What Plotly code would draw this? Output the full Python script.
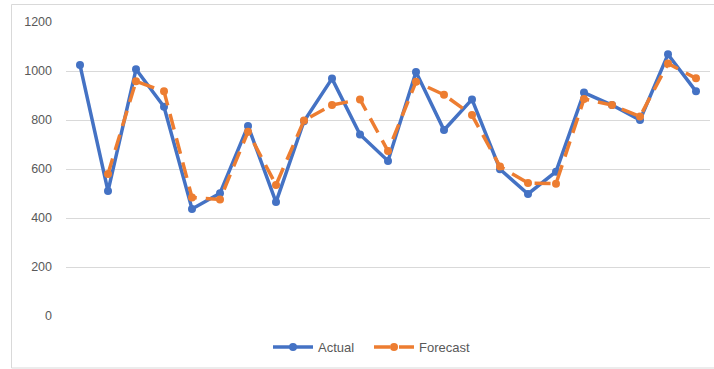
import plotly.graph_objects as go

# Period index and the two series
periods = list(range(1, 24))
actual = [1024, 510, 1007, 854, 437, 501, 776, 465, 795, 969, 741, 633,
          996, 759, 884, 599, 498, 589, 912, 861, 800, 1068, 917]
forecast = [None, 580, 958, 917, 484, 476, 752, 535, 798, 861, 884, 673,
            956, 903, 820, 610, 543, 540, 886, 861, 814, 1031, 970]
y_ticks = [0, 200, 400, 600, 800, 1000, 1200]

BLUE = "#4472C4"
ORANGE = "#ED7D31"
GRID = "#D9D9D9"
TEXT = "#595959"
FONT = "Liberation Sans, Arial, sans-serif"

W, H = 714, 369
ML, MR, MT, MB = 66, 4, 22, 53
pw, ph = W - ML - MR, H - MT - MB

fig = go.Figure()
fig.add_trace(go.Scatter(
    x=periods, y=actual, name="Actual", mode="lines+markers",
    line=dict(color=BLUE, width=3.5),
    marker=dict(color=BLUE, size=8, symbol="circle"),
))
fig.add_trace(go.Scatter(
    x=periods, y=forecast, name="Forecast", mode="lines+markers",
    line=dict(color=ORANGE, width=3.5, dash="16px,9px"),
    marker=dict(color=ORANGE, size=8, symbol="circle"),
))

# light outer frame around the chart area
def px_x(p):
    return (p - ML) / pw

def px_y(p):
    return (H - MB - p) / ph

fig.add_shape(type="rect", xref="paper", yref="paper",
              x0=px_x(11.5), x1=px_x(720), y0=px_y(368), y1=px_y(4.5),
              line=dict(color=GRID, width=1), fillcolor="rgba(0,0,0,0)",
              layer="below")

fig.update_layout(
    width=W, height=H,
    margin=dict(l=ML, r=MR, t=MT, b=MB, pad=0),
    paper_bgcolor="white", plot_bgcolor="white",
    font=dict(family=FONT, size=12.5, color=TEXT),
    showlegend=True,
    legend=dict(
        orientation="h", xref="paper", yref="paper",
        x=px_x(369), xanchor="center", y=px_y(347), yanchor="middle",
        font=dict(family=FONT, size=13, color=TEXT),
        bgcolor="rgba(0,0,0,0)", itemwidth=40, entrywidth=46,
    ),
    xaxis=dict(
        type="linear", range=[0.5, 23.5], showgrid=False, zeroline=False,
        showticklabels=False, ticks="", showline=False, fixedrange=True,
    ),
    yaxis=dict(
        range=[0, 1200], tickvals=y_ticks, ticktext=[str(v) for v in y_ticks],
        showgrid=True, gridcolor=GRID, gridwidth=1, zeroline=False,
        showline=False, ticks="", ticklabelstandoff=13, fixedrange=True,
    ),
)

fig.write_html("out.html")
